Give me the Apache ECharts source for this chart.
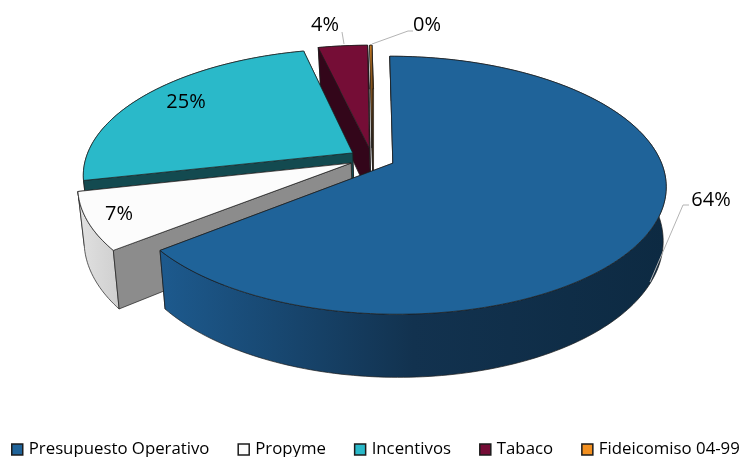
<!DOCTYPE html>
<html>
<head>
<meta charset="utf-8">
<style>
html, body { margin: 0; padding: 0; background: #fff; }
#chart { width: 740px; height: 457px; }
</style>
<script src="https://cdn.jsdelivr.net/npm/echarts@6/dist/echarts.min.js"></script>
</head>
<body>
<div id="chart"></div>
<script>
var categories = ['Presupuesto Operativo', 'Propyme', 'Incentivos', 'Tabaco', 'Fideicomiso 04-99']
var values = [64.3, 7.2, 24.85, 3.5, 0.15]

var topColors = ['#1F6399', '#FCFCFC', '#2AB9C9', '#750D36', '#F39020']
var sideColors = ['#0F3352', '#8C8C8C', '#134A50', '#33061A', '#7A4810']
var outerLeft = ['#1D5A8E', '#E2E2E2', '#134A50', '#33061A', '#7A4810']
var outerMid = ['#12324F', '#D8D8D8', '#134A50', '#33061A', '#7A4810']
var outerRight = ['#0D2A42', '#CFCFCF', '#134A50', '#33061A', '#7A4810']
var paintOrder = [5, 4, 3, 1, 2]

// label spot and leader line for each slice
var labelSpots = [[711, 200], [119, 214], [186, 102], [325, 25], [427, 25]]
var leaders = [
  [[650, 282], [683, 205], [689, 205]],
  null,
  null,
  [[344, 44], [342, 32]],
  [[372, 44], [408, 31], [413, 31]]
]

var total = values.reduce(function (a, b) { return a + b }, 0)

// tilted disc: plane coordinates to screen, with perspective
var view = { cx: 372, cy: 158.5, k: 0.463, p: 0.17, R: 267, explode: 23, drop: 0.016, vx: 475, height: 52 }

function project(x, y, low) {
  var s = 1 / (1 - view.p * y / view.R)
  var px = view.cx + x * s
  var py = view.cy + view.k * y * s
  if (low) {
    px += view.drop * (view.vx - px)
    py += view.height * s
  }
  return [px, py]
}

function sliceAngles(i) {
  var before = 0
  for (var n = 0; n < i; n++) before += values[n]
  return [before / total * Math.PI * 2, (before + values[i]) / total * Math.PI * 2]
}

function sliceOffset(i) {
  var a = sliceAngles(i)
  var mid = (a[0] + a[1]) / 2
  return [view.explode * Math.sin(mid), -view.explode * Math.cos(mid)]
}

function arcPoints(i, low) {
  var a = sliceAngles(i)
  var off = sliceOffset(i)
  var pts = []
  var steps = Math.max(2, Math.ceil((a[1] - a[0]) / 0.02))
  for (var n = 0; n <= steps; n++) {
    var t = a[0] + (a[1] - a[0]) * n / steps
    pts.push(project(off[0] + view.R * Math.sin(t), off[1] - view.R * Math.cos(t), low))
  }
  return pts
}

function apexPoint(i, low) {
  var off = sliceOffset(i)
  return project(off[0], off[1], low)
}

function face(points, fill) {
  return {
    type: 'polygon',
    shape: { points: points },
    style: { fill: fill, stroke: '#1c1c1c', lineWidth: 0.7, lineJoin: 'round' }
  }
}

function makeRenderItem(i) {
  return function (params, api) {
    var topArc = arcPoints(i, false)
    var lowArc = arcPoints(i, true)
    var apex = apexPoint(i, false)
    var apexLow = apexPoint(i, true)
    var last = topArc.length - 1
    var children = []

    // far cut wall, round wall, near cut wall, then the top
    children.push(face([apex, topArc[last], lowArc[last], apexLow], sideColors[i]))
    children.push(face(topArc.concat(lowArc.slice().reverse()), new echarts.graphic.LinearGradient(0, 0, 1, 0, [
      { offset: 0, color: outerLeft[i] },
      { offset: 0.5, color: outerMid[i] },
      { offset: 1, color: outerRight[i] }
    ])))
    children.push(face([apex, topArc[0], lowArc[0], apexLow], sideColors[i]))
    children.push(face([apex].concat(topArc), topColors[i]))

    if (leaders[i]) {
      children.push({
        type: 'polyline',
        shape: { points: leaders[i] },
        style: { fill: 'none', stroke: '#b4b4b4', lineWidth: 1 }
      })
    }
    children.push({
      type: 'text',
      x: labelSpots[i][0],
      y: labelSpots[i][1],
      style: {
        text: Math.round(api.value(0) / total * 100) + '%',
        fill: '#000',
        font: '20px "Open Sans"',
        align: 'center',
        verticalAlign: 'middle'
      }
    })
    return { type: 'group', children: children }
  }
}

var chart = echarts.init(document.getElementById('chart'))
chart.setOption({
  animation: false,
  backgroundColor: '#fff',
  legend: {
    left: 11,
    top: 441,
    width: 760,
    padding: 0,
    itemGap: 28,
    itemWidth: 11,
    itemHeight: 11,
    icon: 'rect',
    itemStyle: { borderColor: '#1c1c1c', borderWidth: 1.5 },
    textStyle: { fontFamily: 'Open Sans', fontSize: 16.8, color: '#000', padding: [0, 0, 0, 1] },
    data: categories
  },
  series: categories.map(function (name, i) {
    return {
      name: name,
      type: 'custom',
      coordinateSystem: 'none',
      z: paintOrder[i],
      itemStyle: { color: topColors[i] },
      renderItem: makeRenderItem(i),
      data: [[values[i]]]
    }
  })
})
</script>
</body>
</html>
